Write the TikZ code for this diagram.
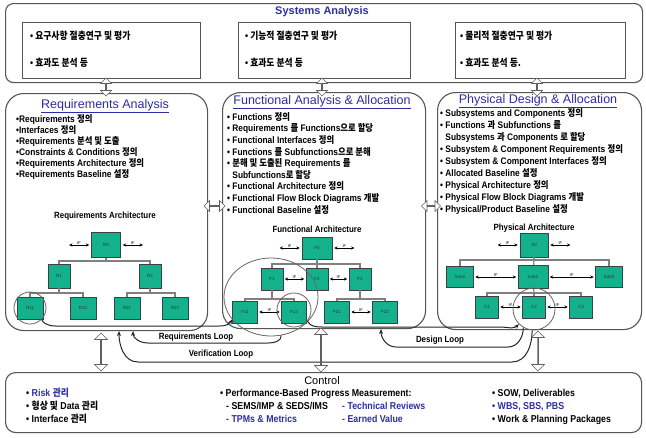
\documentclass[tikz,border=0pt]{standalone}
\usepackage{fontspec}
\setmainfont{Liberation Sans}
\newfontfamily\narrowfont{Liberation Sans}[FakeStretch=0.88]
\newfontfamily\krfont{Noto Sans CJK KR}[FakeStretch=0.88]
\usetikzlibrary{arrows.meta,shapes.arrows,shapes.geometric,calc}
\definecolor{nodeteal}{RGB}{20,178,140}
\definecolor{titleblue}{RGB}{45,45,165}
\definecolor{boxgray}{RGB}{85,85,85}
\newcommand{\K}[1]{{\krfont #1}}
\tikzset{
  panel/.style={draw=boxgray, line width=1.1pt, rounded corners=18pt, fill=white, inner sep=0pt},
  sbox/.style={draw=boxgray, line width=1pt, fill=white, inner sep=0pt},
  tbox/.style={draw=black!75, line width=0.7pt, fill=nodeteal, minimum width=22pt, minimum height=22pt, inner sep=0pt, font=\fontsize{4.5}{5}\selectfont, text=black!80},
  bus/.style={draw=gray, line width=1.2pt},
  ifa/.style={{Stealth[length=3.2pt,width=3.2pt]}-{Stealth[length=3.2pt,width=3.2pt]}, line width=0.8pt, black},
  iflab/.style={font=\fontsize{4}{4}\selectfont, inner sep=0.6pt},
  ring/.style={draw=gray!80!black, line width=0.8pt, inner sep=0pt},
  trace/.style={draw=black!85, line width=1pt, -{Stealth[length=5pt,width=4pt]}},
  loopline/.style={draw=black!85, line width=1pt, -{Stealth[length=5pt,width=4pt]}},
  looplab/.style={font=\narrowfont\bfseries\fontsize{9}{10}\selectfont, inner sep=0pt},
  harrow/.style={double arrow, draw=gray!75!black, fill=white, line width=0.6pt, double arrow head extend=4pt, minimum width=13pt, inner sep=0pt},
  sharrow/.style={harrow, double arrow head extend=3pt, minimum width=11pt},
  listtext/.style={font=\narrowfont\bfseries\fontsize{9.5}{11}\selectfont, align=left, anchor=north west, inner sep=0pt},
  satext/.style={font=\krfont\bfseries\fontsize{10}{12}\selectfont, anchor=base west, inner sep=0pt},
  ctext/.style={font=\narrowfont\bfseries\fontsize{10}{12}\selectfont, anchor=base west, inner sep=0pt},
  archlab/.style={font=\narrowfont\bfseries\fontsize{9}{10}\selectfont, inner sep=0pt},
  ttl/.style={font=\fontsize{12.5}{14}\selectfont, text=titleblue, inner sep=0pt},
}
\begin{document}
\begin{tikzpicture}[x=1pt,y=-1pt]
\useasboundingbox (0,0) rectangle (646,437);
% ---------------- Systems Analysis
\node[panel, rounded corners=8pt, minimum width=637pt, minimum height=79pt, anchor=north west] (SA) at (5,3) {};
\node[font=\bfseries\fontsize{11}{12}\selectfont, text=titleblue] (SAt) at (322,12) {Systems Analysis};
\node[sbox, anchor=north west, minimum width=178pt, minimum height=56pt] (SA1) at (22,22) {};
\node[sbox, anchor=north west, minimum width=172pt, minimum height=56pt] (SA2) at (238,22) {};
\node[sbox, anchor=north west, minimum width=170pt, minimum height=56pt] (SA3) at (455,22) {};
\node[satext] (SA1a) at (30,39) {{\narrowfont •} 요구사항 절충연구 및 평가};
\node[satext] (SA1b) at (30,66) {{\narrowfont •} 효과도 분석 등};
\node[satext] (SA2a) at (245,39) {{\narrowfont •} 기능적 절충연구 및 평가};
\node[satext] (SA2b) at (245,66) {{\narrowfont •} 효과도 분석 등};
\node[satext] (SA3a) at (460,39) {{\narrowfont •} 물리적 절충연구 및 평가};
\node[satext] (SA3b) at (460,66) {{\narrowfont •} 효과도 분석 등.};
% ---------------- three panels
\node[panel, anchor=north west, minimum width=202pt, minimum height=237pt] (RA) at (5,93) {};
\node[panel, anchor=north west, minimum width=203pt, minimum height=236pt] (FA) at (222,92) {};
\node[panel, anchor=north west, minimum width=204pt, minimum height=237pt] (PA) at (437,92) {};
\node[ttl] (RAt) at (105,106) {\underline{Requirements Analysis}};
\node[ttl] (FAt) at (322,102) {\underline{Functional Analysis \& Allocation}};
\node[ttl] (PAt) at (538,101) {\underline{Physical Design \& Allocation}};
\node[listtext] (RAl) at (16,114) {•Requirements \K{정의}\\
•Interfaces \K{정의}\\
•Requirements \K{분석 및 도출}\\
•Constraints \& Conditions \K{정의}\\
•Requirements Architecture \K{정의}\\
•Requirements Baseline \K{설정}};
\node[listtext, font=\narrowfont\bfseries\fontsize{9.5}{11.6}\selectfont] (FAl) at (227,112) {• Functions \K{정의}\\
• Requirements \K{를} Functions\K{으로 할당}\\
• Functional Interfaces \K{정의}\\
• Functions \K{를} Subfunctions\K{으로 분해}\\
• \K{분해 및 도출된} Requirements \K{를}\\
\phantom{• }Subfunctions\K{로 할당}\\
• Functional Architecture \K{정의}\\
• Functional Flow Block Diagrams \K{개발}\\
• Functional Baseline \K{설정}};
\node[listtext, font=\narrowfont\bfseries\fontsize{9.5}{12}\selectfont] (PAl) at (440,108) {• Subsystems and Components \K{정의}\\
• Functions \K{과} Subfunctions \K{를}\\
\phantom{• }Subsystems \K{과} Components \K{로 할당}\\
• Subsystem \& Component Requirements \K{정의}\\
• Subsystem \& Component Interfaces \K{정의}\\
• Allocated Baseline \K{설정}\\
• Physical Architecture \K{정의}\\
• Physical Flow Block Diagrams \K{개발}\\
• Physical/Product Baseline \K{설정}};
\node[archlab] (RAa) at (105,216) {Requirements Architecture};
\node[archlab] (FAa) at (317,229) {Functional Architecture};
\node[archlab] (PAa) at (534,228) {Physical Architecture};
% ---------------- Requirements tree
\node[tbox, minimum width=29pt, minimum height=25pt] (R0) at (106,245) {R0};
\node[tbox, minimum height=24pt] (R1) at (59,276) {R1};
\node[tbox, minimum height=24pt] (R2) at (150,276) {R2};
\node[tbox, minimum width=26pt] (R11) at (30,308) {R11};
\node[tbox, minimum width=26pt] (R12) at (83,308) {R12};
\node[tbox, minimum width=26pt] (R21) at (127,308) {R21};
\node[tbox, minimum width=26pt] (R22) at (175,308) {R22};
\coordinate (rb0) at (106,261);
\coordinate (rb1) at (59,293);
\coordinate (rb2) at (150,293);
\draw[bus] (R0) -- (rb0);
\draw[bus] (R1) |- (rb0) -| (R2);
\draw[bus] (R1) -- (rb1);
\draw[bus] (R11) |- (rb1) -| (R12);
\draw[bus] (R2) -- (rb2);
\draw[bus] (R21) |- (rb2) -| (R22);
\draw[ifa] ([xshift=-2pt]R0.west) -- ++(-20,0) node[iflab, midway, above] {IF};
\draw[ifa] ([xshift=2pt]R0.east) -- ++(20,0) node[iflab, midway, above] {IF};
% ---------------- Functional tree
\node[tbox, minimum width=30pt] (F0) at (317,248) {F0};
\node[tbox] (F1) at (272,279) {F1};
\node[tbox] (F2) at (317,279) {F2};
\node[tbox] (F3) at (360,279) {F3};
\node[tbox, minimum width=25pt] (F11) at (245,312) {F11};
\node[tbox, minimum width=25pt] (F12) at (294,312) {F12};
\node[tbox, minimum width=25pt] (F21) at (337,312) {F21};
\node[tbox, minimum width=25pt] (F22) at (385,312) {F22};
\coordinate (fb0) at (317,264);
\coordinate (fb1) at (272,299);
\coordinate (fb3) at (360,299);
\draw[bus] (F0) -- (fb0);
\draw[bus] (F1) |- (fb0) -| (F3);
\draw[bus] (fb0) -- (F2);
\draw[bus] (F1) -- (fb1);
\draw[bus] (F11) |- (fb1) -| (F12);
\draw[bus] (F3) -- (fb3);
\draw[bus] (F21) |- (fb3) -| (F22);
\draw[ifa] ([xshift=-2pt]F0.west) -- ++(-20,0) node[iflab, midway, above] {IF};
\draw[ifa] ([xshift=2pt]F0.east) -- ++(20,0) node[iflab, midway, above] {IF};
\draw[ifa, shorten <=1.5pt, shorten >=1.5pt] (F1) -- (F2) node[iflab, midway, above] {IF};
\draw[ifa, shorten <=1.5pt, shorten >=1.5pt] (F2) -- (F3) node[iflab, midway, above] {IF};
\draw[ifa, shorten <=1.5pt, shorten >=1.5pt] (F11) -- (F12) node[iflab, midway, above] {IF};
\draw[ifa, shorten <=1.5pt, shorten >=1.5pt] (F21) -- (F22) node[iflab, midway, above] {IF};
% ---------------- Physical tree
\node[tbox, minimum width=28pt, minimum height=24pt] (S0) at (534,245) {S0};
\node[tbox, minimum width=27pt, minimum height=21pt] (Sub1) at (460,277) {Sub1};
\node[tbox, minimum width=30pt, minimum height=23pt] (Sub2) at (533,277) {Sub2};
\node[tbox, minimum width=27pt, minimum height=21pt] (Sub3) at (609,277) {Sub3};
\node[tbox, minimum width=23pt] (C1) at (487,307) {C1};
\node[tbox, minimum width=23pt] (C2) at (534,307) {C2};
\node[tbox, minimum width=23pt] (C3) at (581,307) {C3};
\coordinate (pb0) at (534,260);
\coordinate (pb1) at (534,293);
\draw[bus] (S0) -- (pb0);
\draw[bus] (Sub1) |- (pb0) -| (Sub3);
\draw[bus] (pb0) -- (Sub2);
\draw[bus] (Sub2) -- (pb1);
\draw[bus] (C1) |- (pb1) -| (C3);
\draw[bus] (pb1) -- (C2);
\draw[ifa] ([xshift=-2pt]S0.west) -- ++(-20,0) node[iflab, midway, above] {IF};
\draw[ifa] ([xshift=2pt]S0.east) -- ++(20,0) node[iflab, midway, above] {IF};
\draw[ifa, shorten <=1.5pt, shorten >=1.5pt] (Sub1) -- (Sub2) node[iflab, midway, above] {IF};
\draw[ifa, shorten <=1.5pt, shorten >=1.5pt] (Sub2) -- (Sub3) node[iflab, midway, above] {IF};
\draw[ifa, shorten <=1.5pt, shorten >=1.5pt] (C1) -- (C2) node[iflab, midway, above] {IF};
\draw[ifa, shorten <=1.5pt, shorten >=1.5pt] (C2) -- (C3) node[iflab, midway, above] {IF};
% ---------------- rings
\node[ring, circle, minimum size=32pt] (rc) at (30,308) {};
\node[ring, ellipse, minimum width=94pt, minimum height=78pt] (fc) at (271,297) {};
\node[ring, circle, minimum size=34pt] (f12c) at (294,310) {};
\node[ring, circle, minimum size=42pt] (c2c) at (534,309) {};
% ---------------- traces and loops
\coordinate (rlEnd) at (133,331);
\coordinate (vlEnd) at (119,331);
\coordinate (dlEnd) at (381,329);
\draw[trace] (rc.-45) to[out=-60,in=180] (62,326) -- (212,326) to[out=0,in=-120] (fc.210);
\draw[trace] (f12c.-40) to[out=-60,in=180] (322,327) -- (500,327) to[out=0,in=-135] (c2c.225);
\draw[loopline] (fc.-75) to[out=-90,in=0] (268,343) -- (148,343) to[out=180,in=-90] (rlEnd);
\draw[loopline] (c2c.-120) to[out=-90,in=0] (508,347) -- (396,347) to[out=180,in=-90] (dlEnd);
\draw[loopline] (c2c.-95) to[out=-90,in=0] (512,362) -- (138,362) to[out=180,in=-90] (vlEnd);
\node[looplab] (RL) at (196,337) {Requirements Loop};
\node[looplab] (DL) at (440,340) {Design Loop};
\node[looplab] (VL) at (221,354) {Verification Loop};
% ---------------- hollow double arrows
\node[sharrow, rotate=90, minimum height=18pt] (a1) at (106,87) {};
\node[sharrow, rotate=90, minimum height=18pt] (a2) at (322,87) {};
\node[sharrow, rotate=90, minimum height=18pt] (a3) at (537,87) {};
\node[sharrow, minimum height=21pt] (h1) at (214.5,206) {};
\node[sharrow, minimum height=19pt] (h2) at (431,206) {};
\node[harrow, rotate=90, minimum height=38pt] (d1) at (101,352) {};
\node[harrow, rotate=90, minimum height=44pt] (d2) at (321,350) {};
\node[harrow, rotate=90, minimum height=40pt] (d3) at (538,351) {};
% ---------------- Control
\node[panel, rounded corners=10pt, anchor=north west, minimum width=636pt, minimum height=60pt] (CT) at (5,372) {};
\node[font=\fontsize{11}{12}\selectfont, inner sep=0pt] (CTt) at (322,381) {Control};
\node[ctext] (c11) at (26,396) {• \textcolor{titleblue}{Risk \K{관리}}};
\node[ctext] (c12) at (26,409) {• \K{형상 및} Data \K{관리}};
\node[ctext] (c13) at (26,422) {• Interface \K{관리}};
\node[ctext] (c21) at (220,396) {• Performance-Based Progress Measurement:};
\node[ctext] (c22) at (226,409) {- SEMS/IMP \& SEDS/IMS};
\node[ctext, text=titleblue] (c23) at (342,409) {- Technical Reviews};
\node[ctext, text=titleblue] (c24) at (226,422) {- TPMs \& Metrics};
\node[ctext, text=titleblue] (c25) at (342,422) {- Earned Value};
\node[ctext] (c31) at (492,396) {• SOW, Deliverables};
\node[ctext, text=titleblue] (c32) at (492,409) {• WBS, SBS, PBS};
\node[ctext] (c33) at (492,422) {• Work \& Planning Packages};
\end{tikzpicture}
\end{document}
